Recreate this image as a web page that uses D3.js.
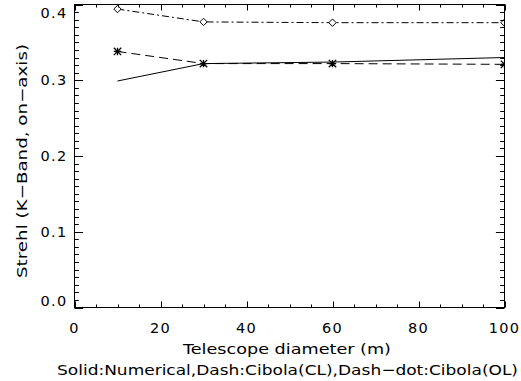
<!DOCTYPE html>
<html>
<head>
<meta charset="utf-8">
<script src="https://cdn.jsdelivr.net/npm/d3@7"></script>
<style>
  body { margin: 0; background: #fff; }
  svg { display: block; }
  text { font-family: "DejaVu Sans", sans-serif; fill: #000; }
</style>
</head>
<body>
<svg></svg>
<script>
// telescope diameters (m)
const diameters = [10, 30, 60, 100];
// strehl, K band, on-axis
const numerical = [0.299, 0.322, 0.324, 0.330];
const cibolaCL = [0.338, 0.322, 0.322, 0.321];
const cibolaOL = [0.394, 0.377, 0.376, 0.376];

const xTicks = [0, 20, 40, 60, 80, 100];
const yTicks = [0.0, 0.1, 0.2, 0.3, 0.4];

const svgWidth = 521;
const svgHeight = 381;
const plotLeft = 74.5, plotRight = 504.5, plotTop = 4.5, plotBottom = 307.5;

const svg = d3.select('svg')
    .attr('width', svgWidth)
    .attr('height', svgHeight);

const xScale = d3.scaleLinear()
    .domain([0, 100])
    .range([plotLeft, plotRight]);

const yScale = d3.scaleLinear()
    .domain([0, 0.4])
    .range([plotBottom, plotTop]);

const xMinor = d3.range(0, 101, 5).filter(v => v % 20 !== 0);
const yMinor = d3.range(0, 41, 1).map(v => v / 100).filter((v, i) => i % 10 !== 0);

const xLen = 0.02 * (plotBottom - plotTop);
const yLen = 0.02 * (plotRight - plotLeft);

// tick labels
svg.append('g').selectAll('text')
    .data(xTicks)
    .enter()
    .append('text')
    .attr('x', d => xScale(d))
    .attr('y', 333)
    .attr('text-anchor', 'middle')
    .attr('font-size', 14.5)
    .attr('letter-spacing', 1.3)
    .text(d => d);

svg.append('g').selectAll('text')
    .data(yTicks)
    .enter()
    .append('text')
    .attr('x', plotLeft - 7)
    .attr('y', d => Math.min(Math.max(yScale(d), plotTop + 8), plotBottom - 7))
    .attr('dy', '0.36em')
    .attr('text-anchor', 'end')
    .attr('font-size', 14.5)
    .attr('letter-spacing', 1.3)
    .text(d => d.toFixed(1));

// titles
svg.append('text')
    .attr('x', 287)
    .attr('y', 354)
    .attr('text-anchor', 'middle')
    .attr('font-size', 14.5)
    .attr('textLength', 208)
    .attr('lengthAdjust', 'spacingAndGlyphs')
    .text('Telescope diameter (m)');

svg.append('text')
    .attr('x', 287.5)
    .attr('y', 375)
    .attr('text-anchor', 'middle')
    .attr('font-size', 14.5)
    .attr('textLength', 461)
    .attr('lengthAdjust', 'spacingAndGlyphs')
    .text('Solid:Numerical,Dash:Cibola(CL),Dash\u2212dot:Cibola(OL)');

svg.append('text')
    .attr('transform', 'translate(27,161) rotate(-90)')
    .attr('text-anchor', 'middle')
    .attr('font-size', 14.5)
    .attr('textLength', 234)
    .attr('lengthAdjust', 'spacingAndGlyphs')
    .text('Strehl (K\u2212Band, on\u2212axis)');

// data
svg.append('clipPath')
    .attr('id', 'plot-area')
    .append('rect')
    .attr('x', plotLeft)
    .attr('y', plotTop)
    .attr('width', plotRight - plotLeft)
    .attr('height', plotBottom - plotTop);

const plot = svg.append('g').attr('clip-path', 'url(#plot-area)');

const line = d3.line()
    .x((d, i) => xScale(diameters[i]))
    .y(d => yScale(d));

const series = [
  { values: numerical, dash: null, marker: null },
  { values: cibolaCL, dash: '9,5', marker: 'star' },
  { values: cibolaOL, dash: '7,3,2,3', marker: 'diamond' }
];

series.forEach(s => {
  plot.append('path')
      .attr('d', line(s.values))
      .attr('fill', 'none')
      .attr('stroke', '#000')
      .attr('stroke-width', 1)
      .attr('stroke-dasharray', s.dash);

  if (!s.marker) return;
  const r = 3.7;
  const pts = plot.selectAll(null)
      .data(s.values)
      .enter()
      .append('path')
      .attr('transform', (d, i) => `translate(${xScale(diameters[i])},${yScale(d)})`)
      .attr('fill', 'none')
      .attr('stroke', '#000')
      .attr('stroke-width', 1);
  if (s.marker === 'star') {
    pts.attr('d', `M${-r},0H${r}M0,${-r}V${r}M${-r},${-r}L${r},${r}M${-r},${r}L${r},${-r}`)
        .attr('stroke-width', 1.3);
  } else {
    pts.attr('d', `M0,${-r}L${r},0L0,${r}L${-r},0Z`)
        .attr('fill', '#fff');
  }
});

// frame and ticks on all four sides, pointing inwards, drawn last
const px = v => Math.round(xScale(v)) + 0.5;
const py = v => Math.round(yScale(v)) + 0.5;

let tickPath = '';
[[xTicks, xLen], [xMinor, xLen / 2]].forEach(([vals, len]) => {
  vals.forEach(v => {
    tickPath += `M${px(v)},${plotBottom}V${plotBottom - len}`;
    tickPath += `M${px(v)},${plotTop}V${plotTop + len}`;
  });
});
[[yTicks, yLen], [yMinor, yLen / 2]].forEach(([vals, len]) => {
  vals.forEach(v => {
    tickPath += `M${plotLeft},${py(v)}H${plotLeft + len}`;
    tickPath += `M${plotRight},${py(v)}H${plotRight - len}`;
  });
});

svg.append('path')
    .attr('d', tickPath)
    .attr('fill', 'none')
    .attr('stroke', '#000')
    .attr('stroke-width', 1);

svg.append('rect')
    .attr('x', plotLeft)
    .attr('y', plotTop)
    .attr('width', plotRight - plotLeft)
    .attr('height', plotBottom - plotTop)
    .attr('fill', 'none')
    .attr('stroke', '#000');
</script>
</body>
</html>
